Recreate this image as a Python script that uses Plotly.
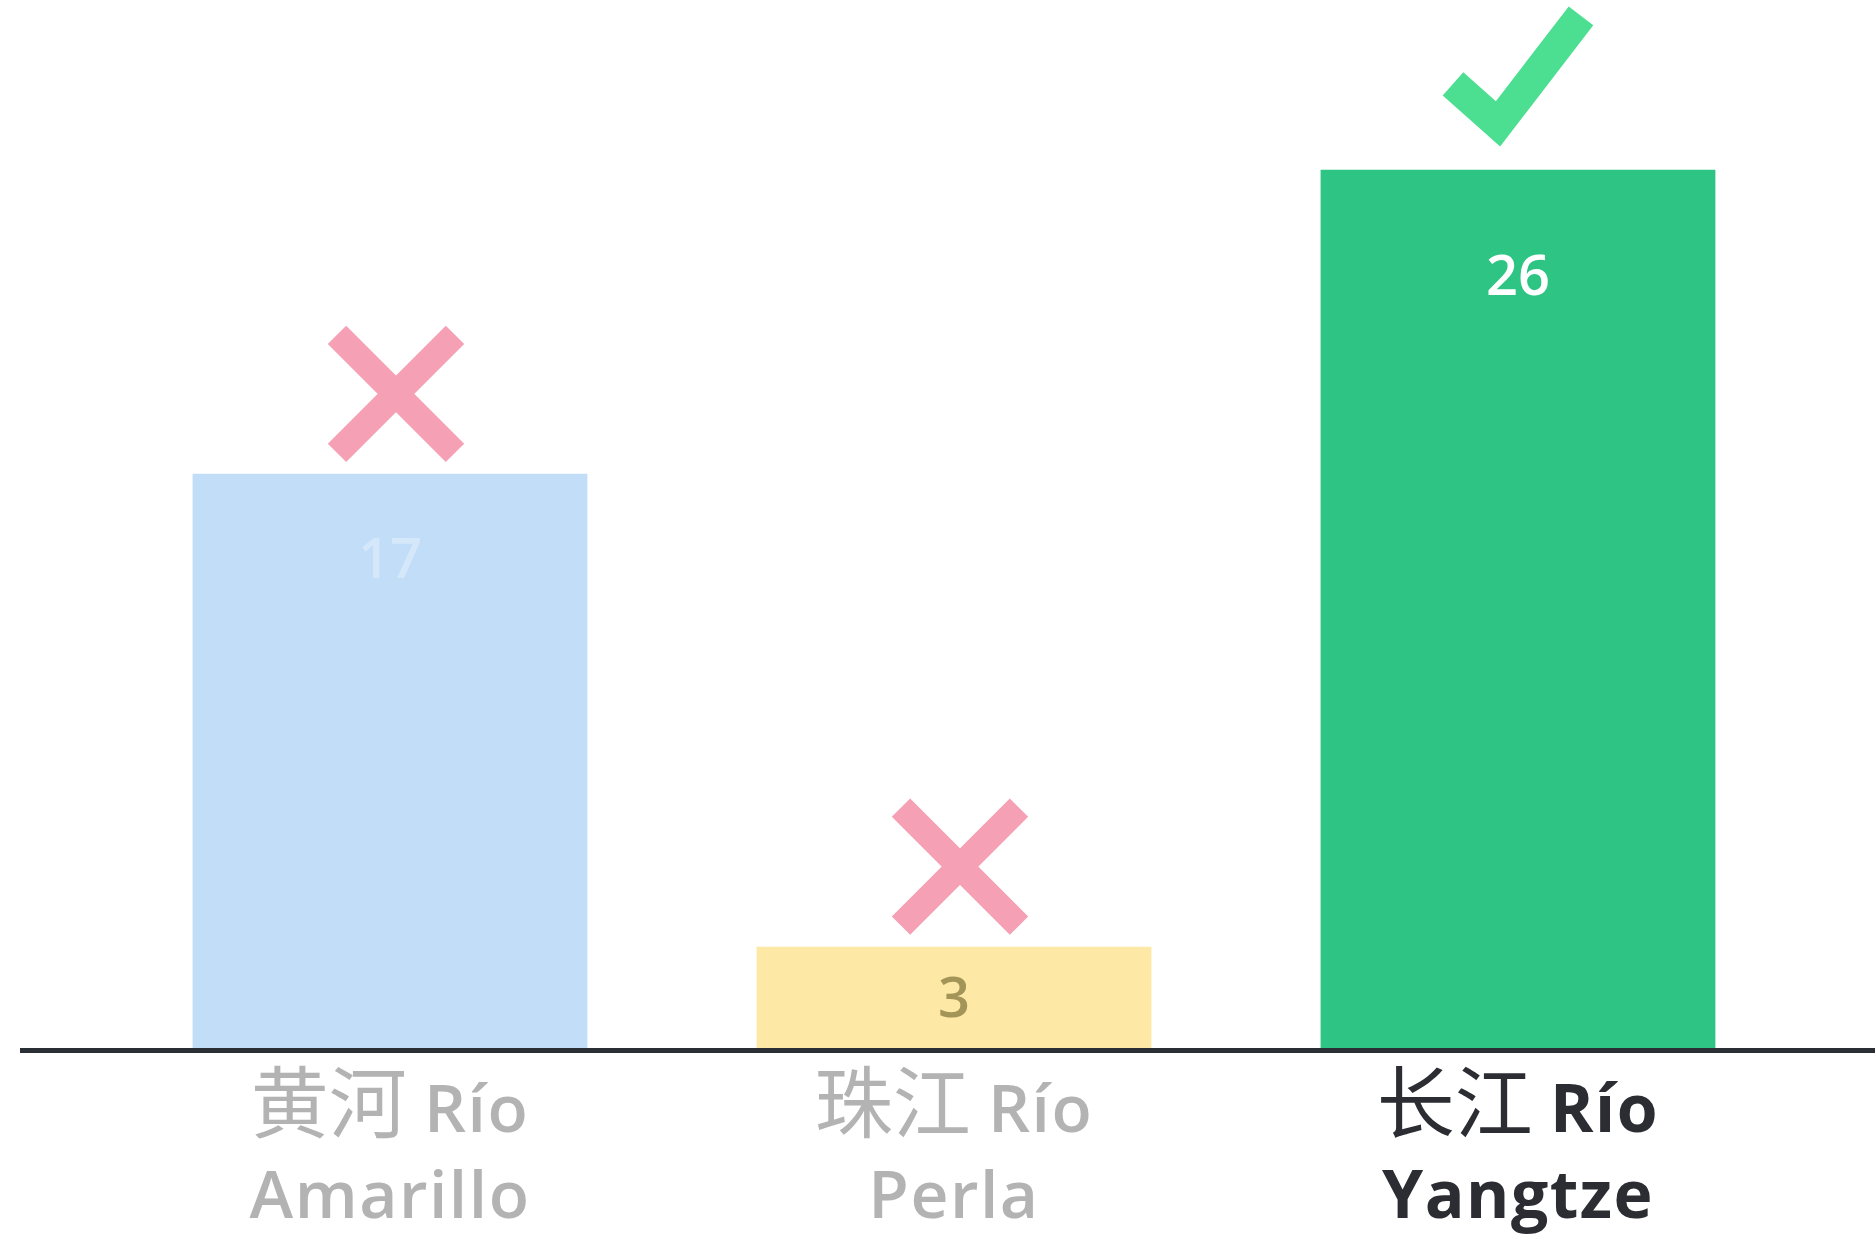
import plotly.graph_objects as go

# ---- data ----
cjk_names = ["黄河", "珠江", "长江"]
latin_names = ["Río<br>Amarillo", "Río<br>Perla", "Río<br>Yangtze"]
values = [17, 3, 26]
correct = [False, False, True]

# ---- style ----
bar_colors = ["#c2ddf8", "#fde8a6", "#2ec483"]
value_colors = ["rgba(255,255,255,0.32)", "#a39457", "#ffffff"]
label_drop_px = [82, 48, 103]
tick_colors = ["#b3b3b3", "#b3b3b3", "#2b2d33"]
tick_bold = [False, False, True]
FONT = "'Open Sans', 'Noto Sans CJK SC', sans-serif"
CJK = "'Noto Sans CJK SC'"

xs = list(range(len(values)))

fig = go.Figure()
fig.add_trace(go.Bar(
    x=xs, y=values, width=0.7,
    marker=dict(color=bar_colors, line=dict(width=0)),
    hoverinfo="skip",
))

ticktext = []
for cj, la, col, b in zip(cjk_names, latin_names, tick_colors, tick_bold):
    lat = la.split("<br>")
    wt = 700 if b else 600
    lat_html = "<br>".join(
        f'<span style="color:{col};font-weight:{wt};letter-spacing:1.5px">{p}</span>' for p in lat)
    cj_html = f'<span style="color:{col};font-family:{CJK};font-weight:400;font-size:78px">{cj}</span>'
    ticktext.append(cj_html + " " + lat_html)

annotations = []
shapes = []
for i, (v, ok) in enumerate(zip(values, correct)):
    annotations.append(dict(
        x=i, y=v, xref="x", yref="y", text=str(v), showarrow=False,
        yanchor="middle", yshift=-label_drop_px[i],
        font=dict(family=FONT, size=56, color=value_colors[i], weight=600),
    ))
    if ok:
        shapes.append(dict(
            type="path", xref="x", yref="y", xsizemode="pixel", ysizemode="pixel",
            xanchor=i, yanchor=v,
            path="M-65,86 L-20,46 L63,154",
            line=dict(color="#4ddf91", width=31),
        ))
    else:
        shapes.append(dict(
            type="path", xref="x", yref="y", xsizemode="pixel", ysizemode="pixel",
            xanchor=i, yanchor=v,
            path="M-53,21 L65,139 M-53,139 L65,21",
            line=dict(color="#f5a0b5", width=26),
        ))

fig.update_layout(
    width=1875, height=1237,
    margin=dict(l=20, r=0, t=3, b=184, pad=0),
    paper_bgcolor="white", plot_bgcolor="white",
    showlegend=False,
    font=dict(family=FONT),
    annotations=annotations,
    shapes=shapes,
    xaxis=dict(
        range=[-0.656, 2.633], tickvals=xs, ticktext=ticktext,
        showgrid=False, zeroline=False,
        showline=True, linecolor="#2a2e35", linewidth=5,
        ticks="", tickfont=dict(family=FONT, size=66, color="#b3b3b3"),
        fixedrange=True,
    ),
    yaxis=dict(
        range=[0, 30.94], visible=False, showgrid=False, zeroline=False,
        fixedrange=True,
    ),
)

fig.write_html(
    "out.html",
    config={"displayModeBar": False},
    post_script="document.body.style.margin='0';document.body.style.overflow='hidden';",
)
